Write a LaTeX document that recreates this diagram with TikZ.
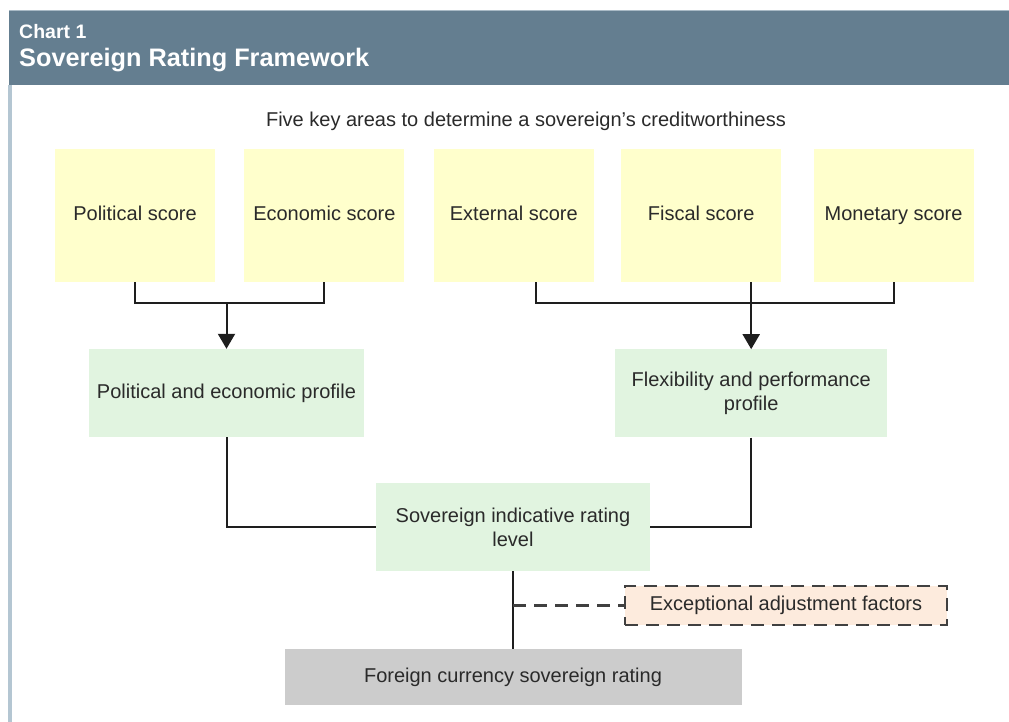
\documentclass[tikz,border=0pt]{standalone}
\usepackage{fontspec}
\setmainfont{Liberation Sans}
\usepackage{tikz}
\usetikzlibrary{positioning,arrows.meta}
\usepackage{xcolor}

\definecolor{headblue}{HTML}{647E90}
\definecolor{headedge}{HTML}{A9BAC6}
\definecolor{sideblue}{HTML}{B4C6D2}
\definecolor{scoreyellow}{HTML}{FFFFCC}
\definecolor{profilegreen}{HTML}{E1F4E0}
\definecolor{adjustpeach}{HTML}{FDEBDD}
\definecolor{finalgrey}{HTML}{CCCCCC}
\definecolor{textgrey}{HTML}{2A2A2A}
\definecolor{linegrey}{HTML}{1E1E1E}
\definecolor{dashgrey}{HTML}{404040}

\begin{document}
\begin{tikzpicture}[
    x=1pt, y=-1pt,
    every node/.style={font=\fontsize{20}{24}\selectfont, text=textgrey},
    score/.style={rectangle, fill=scoreyellow, minimum width=160pt, minimum height=133pt, inner sep=0pt, text height=14.5pt, text depth=4pt},
    profile/.style={rectangle, fill=profilegreen, minimum width=274pt, minimum height=88pt, align=center, inner sep=0pt},
    adjust/.style={rectangle, draw=dashgrey, line width=2.2pt, dash pattern=on 13pt off 8pt, fill=adjustpeach, minimum width=322pt, minimum height=39pt},
    final/.style={rectangle, fill=finalgrey, minimum width=457pt, minimum height=56pt},
    headtext/.style={anchor=west, text=white, inner sep=0pt},
    link/.style={draw=linegrey, line width=2pt},
    arrow/.style={link, -{Triangle[width=17pt,length=15pt]}},
    dashedlink/.style={draw=dashgrey, line width=2.2pt, dash pattern=on 13pt off 8pt}
]
\useasboundingbox (0,0) rectangle (1009,722);

% Frame and header bar
\fill[sideblue] (8,85) rectangle (12,722);
\fill[headblue] (9,11) rectangle (1009,85);
\draw[headedge, line width=1pt] (9,10.5) -- (1009,10.5);
\node[headtext, font=\bfseries\fontsize{19.5}{22}\selectfont] (chart) at (19,32) {Chart 1};
\node[headtext, font=\bfseries\fontsize{25.3}{28}\selectfont] (title) at (19,60) {Sovereign Rating Framework};

\node (intro) at (526,121) {Five key areas to determine a sovereign’s creditworthiness};

% Scores
\node[score] (pol) at (135,215.5) {Political score};
\node[score, right=29pt of pol] (eco) {Economic score};
\node[score, right=29pt of eco] (ext) {External score};
\node[score, right=27pt of ext] (fis) {Fiscal score};
\node[score, right=32pt of fis] (mon) {Monetary score};

% Profiles
\node[profile, minimum width=275pt] (pep) at (226.5,393) {Political and economic profile};
\node[profile, minimum width=272pt, below=67pt of fis, xshift=50pt] (fpp) {Flexibility and performance\\profile};

% Rating levels
\node[profile] (sir) at (513,527) {Sovereign indicative rating\\level};
\node[adjust] (eaf) at (786,605.5) {Exceptional adjustment factors};
\node[final, below=78pt of sir] (fcr) {Foreign currency sovereign rating};

% Joins above the profiles
\coordinate (pejoin) at ([yshift=46pt]pep.north);
\coordinate (fpjoin) at ([yshift=46pt]fpp.north);

% Score arrows
\draw[link] (pol.south) |- (pejoin) -| (eco.south);
\draw[arrow] (pejoin) -- (pep.north);
\draw[link] ([xshift=22pt]ext.south) |- (fpjoin) -| (mon.south);
\draw[arrow] ([xshift=50pt]fis.south) -- (fpp.north);

% Profile and rating links
\draw[link] (pep.south) |- (sir.west);
\draw[link] (fpp.south) |- (sir.east);
\draw[link] (sir.south) -- (fcr.north);
\draw[dashedlink] (eaf.west -| sir.south) -- (eaf.west);

\end{tikzpicture}
\end{document}
